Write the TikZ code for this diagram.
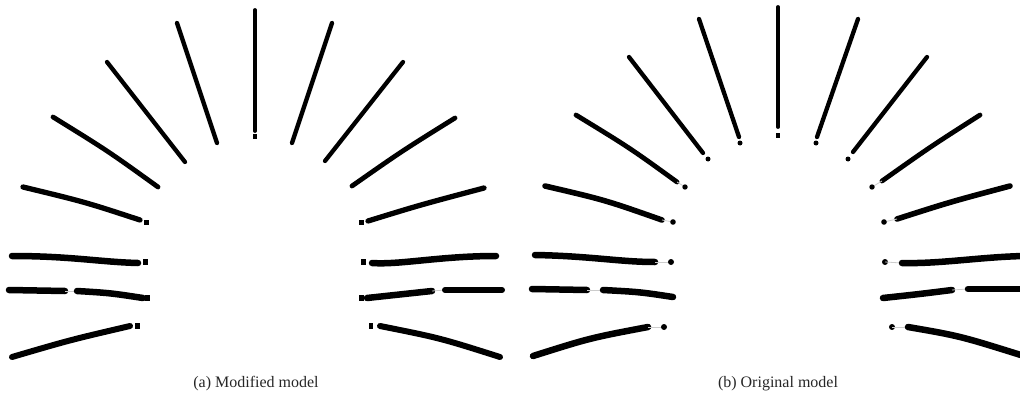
\documentclass[tikz,border=0pt]{standalone}
\usepackage{fontspec}
\setmainfont{Liberation Serif}
\begin{document}
\begin{tikzpicture}[x=1pt,y=-1pt,
  fib/.style={line width=#1, line cap=round, black},
  fib/.default=4,
  gap/.style={line width=0.8, gray!40},
  captext/.style={font=\fontsize{16}{18}\selectfont, text=black!85, inner sep=0pt, anchor=base}]
\useasboundingbox (0,0) rectangle (1020,404);
% ---------- panel (a) ----------
\draw[fib=3.8] (255,10) -- (255,131);
\fill (253,134) rectangle (257,139);
\draw[fib=4.3] (177,23) -- (217,143);
\draw[fib=4.3] (332,23) -- (292,143);
\draw[fib=4.3] (107,62) -- (185,162);
\draw[fib=4.3] (403,62) -- (325,161);
\draw[fib=4.8] (53,117) .. controls (108,151) .. (158,187);
\draw[fib=4.8] (455,118) .. controls (402,151) .. (352,186);
\draw[fib=5.3] (23,187) .. controls (85,202) .. (140,220);
\fill (144,220) rectangle (149,225);
\draw[fib=5.3] (484,188) .. controls (420,205) .. (368,221);
\fill (359,220) rectangle (364,225);
\draw[fib=6.5] (12,256) .. controls (70,256) and (100,262) .. (138,263);
\fill (143,259) rectangle (148,265);
\draw[fib=6.5] (9,290) -- (65,291);
\draw[gap] (65,291) -- (77,291);
\draw[fib=6.5] (77,291) .. controls (110,293) .. (143,298);
\fill (145,295) rectangle (150,301);
\draw[fib=6] (12,357) .. controls (70,340) .. (130,326);
\fill (135,323) rectangle (140,329);
\fill (361,259) rectangle (366,265);
\draw[fib=6.5] (372,263) .. controls (400,265) and (440,256) .. (496,256);
\fill (359,295) rectangle (364,301);
\draw[fib=6.5] (367,298) .. controls (400,295) .. (432,291);
\draw[gap] (432,291) -- (445,290);
\draw[fib=6] (445,290) -- (502,290);
\fill (369,323) rectangle (373,329);
\draw[fib=6] (380,326) .. controls (440,338) .. (500,357);
% ---------- panel (b) ----------
\draw[fib=3.8] (778,7) -- (778,127);
\fill (776,133) rectangle (780,138);
\draw[fib=4.3] (699,19) -- (739,137);
\fill (740,143) circle (2.5);
\draw[fib=4.3] (858,19) -- (817,137);
\fill (816,143) circle (2.5);
\draw[fib=4.3] (629,57) -- (703,153);
\fill (708,159) circle (2.5);
\draw[fib=4.3] (927,57) -- (853,152);
\fill (848,159) circle (2.5);
\draw[fib=4.8] (576,115) .. controls (630,148) .. (677,182);
\draw[gap] (677,182) -- (685,187);
\fill (685,187) circle (2.7);
\draw[fib=4.8] (980,115) .. controls (930,147) .. (882,181);
\draw[gap] (882,181) -- (872,187);
\fill (872,187) circle (2.7);
\draw[fib=5.6] (545,186) .. controls (605,200) .. (662,220);
\draw[gap] (662,220) -- (673,222);
\fill (673,222) circle (2.8);
\draw[fib=5.6] (1010,186) .. controls (950,202) .. (897,219);
\draw[gap] (897,219) -- (884,222);
\fill (884,222) circle (2.8);
\draw[fib=6.5] (535,255) .. controls (590,256) and (620,262) .. (655,262);
\draw[gap] (655,262) -- (671,262);
\fill (671,262) circle (3);
\draw[fib=6.5] (532,289) -- (587,290);
\draw[gap] (587,290) -- (603,290);
\draw[fib=6.5] (603,290) .. controls (640,292) .. (673,297);
\draw[fib=6.5] (533,356) .. controls (590,338) .. (648,327);
\draw[gap] (648,327) -- (664,327);
\fill (664,327) circle (3);
\fill (885,262) circle (3);
\draw[gap] (885,262) -- (902,263);
\draw[fib=6.5] (902,263) .. controls (940,264) and (980,257) .. (1024,256);
\draw[fib=6.5] (883,298) .. controls (920,294) .. (952,290);
\draw[gap] (952,290) -- (968,289);
\draw[fib=6.5] (968,289) -- (1024,289);
\fill (892,327) circle (3);
\draw[gap] (892,327) -- (908,327);
\draw[fib=6.5] (908,327) .. controls (960,336) .. (1024,356);
% ---------- captions ----------
\node[captext] (capa) at (256,387) {(a) Modified model};
\node[captext] (capb) at (778,387) {(b) Original model};
\end{tikzpicture}
\end{document}
